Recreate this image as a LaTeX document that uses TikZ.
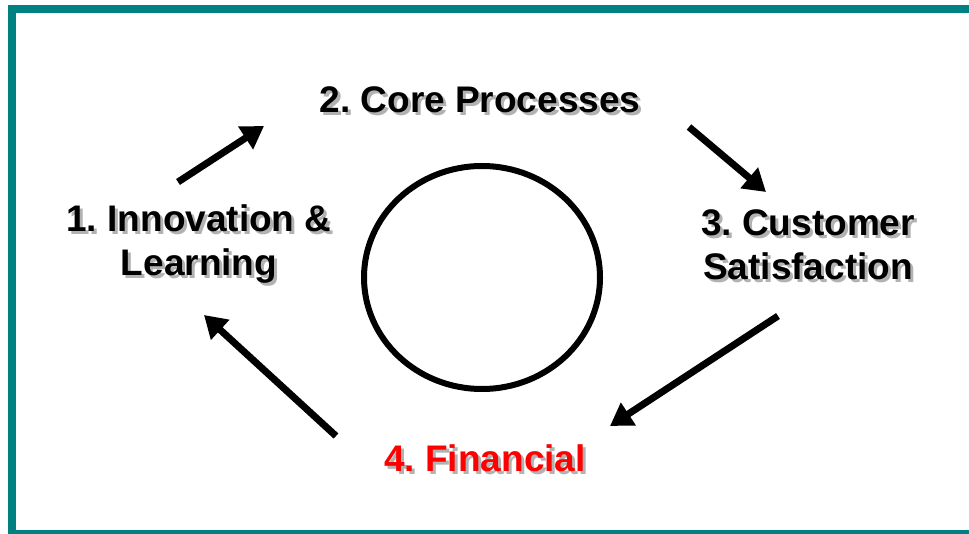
\documentclass[tikz,border=0pt]{standalone}
\usepackage{fontspec}
\setmainfont{Liberation Sans}
\usetikzlibrary{arrows.meta, positioning}
\definecolor{frameteal}{HTML}{008080}
\newcommand{\shadowed}[1]{\leavevmode\rlap{\hspace{3pt}\raisebox{-3pt}{\textcolor{black!30}{#1}}}#1}
\frenchspacing

\begin{document}
\begin{tikzpicture}[x=1pt, y=-1pt,
  label/.style={font=\fontsize{37}{44}\selectfont\bfseries, align=center, inner sep=0pt},
  flow/.style={line width=7pt, -{Triangle[length=22pt,width=26pt]}}]

\useasboundingbox (0,0) rectangle (969,534);

% frame
\draw[frameteal, line width=8pt] (12,9) rectangle (985,534);

% the four stages
\node[label] (core) at (480,101) {\shadowed{2. Core Processes}};
\node[label] (innov) at (199,246) {\shadowed{1. Innovation \&}\\\shadowed{Learning}};
\node[label] (cust) at (808,246) {\shadowed{3. Customer}\\\shadowed{Satisfaction}};
\node[label, text=red] (fin) at (485,460) {\shadowed{4. Financial}};

% centre ring
\draw[line width=6pt] (482,277.5) ellipse [x radius=118pt, y radius=111.5pt];

% arrow ends
\coordinate (a1s) at (178,182);
\coordinate (a1e) at (264,126);
\coordinate (a2s) at (689,127);
\coordinate (a2e) at (766,192);
\coordinate (a3s) at (778,316);
\coordinate (a3e) at (610,426);
\coordinate (a4s) at (336,436);
\coordinate (a4e) at (204,315);

\draw[flow] (a1s) -- (a1e);
\draw[flow] (a2s) -- (a2e);
\draw[flow] (a3s) -- (a3e);
\draw[flow] (a4s) -- (a4e);

\end{tikzpicture}
\end{document}
